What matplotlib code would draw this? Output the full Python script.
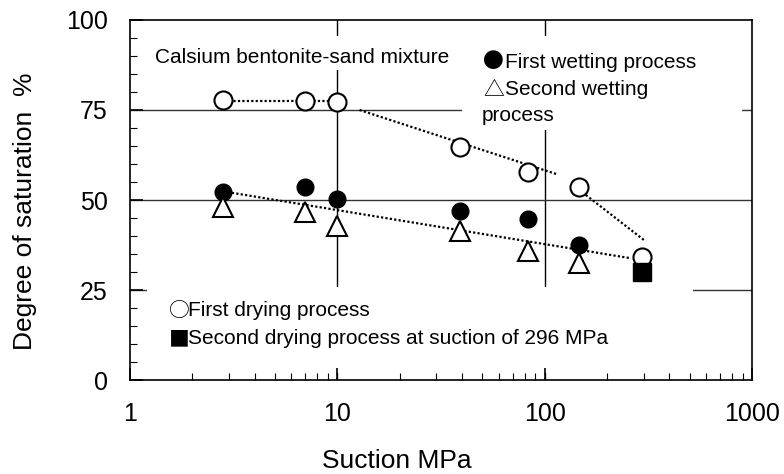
import matplotlib
matplotlib.use("Agg")
import matplotlib.pyplot as plt
from matplotlib.patches import Rectangle
from matplotlib.ticker import FixedLocator, MultipleLocator, NullFormatter

plt.rcParams['font.family'] = ['Liberation Sans', 'DejaVu Sans']
SYM = ['Noto Sans CJK JP', 'DejaVu Sans']

# data
suction = [2.8, 7, 10, 39, 83, 147, 296]
first_drying = [77.7, 77.5, 77.3, 64.6, 57.9, 53.7, 34.3]
suction_wet = [2.8, 7, 10, 39, 83, 147]
first_wetting = [52.3, 53.5, 50.2, 46.9, 44.6, 37.5]
second_wetting = [48.1, 46.7, 42.8, 41.4, 35.9, 32.5]
second_drying_x = [296]
second_drying = [30.0]

# dotted trend segments
dry_fit1_x, dry_fit1_y = [3.0, 9.2], [77.6, 77.6]
dry_fit2_x, dry_fit2_y = [12.8, 114], [75.0, 57.2]
dry_fit3_x, dry_fit3_y = [158, 304], [51.4, 38.7]
wet_fit_x, wet_fit_y = [3.1, 255], [52.0, 33.9]

fig = plt.figure(figsize=(7.84, 4.74), dpi=100)
ax = fig.add_axes([130 / 784, 94 / 474, 622 / 784, 360 / 474])

ax.set_xscale('log')
ax.set_xlim(1, 1000)
ax.set_ylim(0, 100)

# grid lines
for gx in [10, 100]:
    ax.axvline(gx, color='black', lw=1.0, zorder=1)
for gy in [25, 50, 75]:
    ax.axhline(gy, color='#333333', lw=1.0, zorder=1)

# white backgrounds behind the annotation texts
for x0, y0, w, h in [(0.032, 0.861, 0.495, 0.095),
                     (0.534, 0.694, 0.450, 0.262),
                     (0.027, 0.020, 0.878, 0.238)]:
    ax.add_patch(Rectangle((x0, y0), w, h, transform=ax.transAxes,
                           facecolor='white', edgecolor='none', zorder=1.5))

dots = (0, (1, 1))
for fx, fy in [(dry_fit1_x, dry_fit1_y), (dry_fit2_x, dry_fit2_y),
               (dry_fit3_x, dry_fit3_y), (wet_fit_x, wet_fit_y)]:
    ax.plot(fx, fy, color='black', lw=1.6, linestyle=dots, zorder=3)

ax.plot(suction, first_drying, 'o', ms=13, mfc='white', mec='black', mew=1.5, zorder=4)
ax.plot(suction_wet, first_wetting, 'o', ms=12, color='black', zorder=4)
ax.plot(suction_wet, second_wetting, '^', ms=14, mfc='white', mec='black', mew=1.5, zorder=5)
ax.plot(second_drying_x, second_drying, 's', ms=13, color='black', zorder=4)

tr = ax.transAxes
fs = 15
ax.text(0.040, 0.897, 'Calsium bentonite-sand mixture', fontsize=fs,
        va='center', ha='left', transform=tr, zorder=2)
ax.text(0.5675, 0.883, '●', family=SYM, fontsize=fs, va='center', ha='left', transform=tr, zorder=2)
ax.text(0.603, 0.883, 'First wetting process', fontsize=fs, va='center', ha='left',
        transform=tr, zorder=2)
ax.text(0.5675, 0.808, '△', family=SYM, fontsize=fs, va='center', ha='left', transform=tr, zorder=2)
ax.text(0.603, 0.808, 'Second wetting', fontsize=fs, va='center', ha='left',
        transform=tr, zorder=2)
ax.text(0.566, 0.736, 'process', fontsize=fs, va='center', ha='left',
        transform=tr, zorder=2)
ax.text(0.0627, 0.192, '○', family=SYM, fontsize=fs, va='center', ha='left', transform=tr, zorder=2)
ax.text(0.0932, 0.192, 'First drying process', fontsize=fs, va='center', ha='left',
        transform=tr, zorder=2)
ax.text(0.0627, 0.114, '■', family=SYM, fontsize=fs, va='center', ha='left', transform=tr, zorder=2)
ax.text(0.0932, 0.114, 'Second drying process at suction of 296 MPa', fontsize=fs,
        va='center', ha='left', transform=tr, zorder=2)

ax.xaxis.set_major_locator(FixedLocator([1, 10, 100, 1000]))
ax.set_xticklabels(['1', '10', '100', '1000'])
ax.xaxis.set_minor_formatter(NullFormatter())
ax.yaxis.set_major_locator(MultipleLocator(25))
ax.yaxis.set_minor_locator(MultipleLocator(5))

ax.tick_params(axis='x', which='major', direction='in', length=9, width=1.2,
               labelsize=18, pad=16)
ax.tick_params(axis='x', which='minor', direction='in', length=5, width=0.8)
ax.tick_params(axis='y', which='major', direction='in', length=9, width=1.2,
               labelsize=18, pad=16)
ax.tick_params(axis='y', which='minor', direction='in', length=5, width=0.8)

for sp in ax.spines.values():
    sp.set_linewidth(1.2)

ax.set_xlabel('Suction MPa', fontsize=19)
ax.xaxis.set_label_coords(0.429, -0.192)
ax.set_ylabel('Degree of saturation  %', fontsize=19)
ax.yaxis.set_label_coords(-0.1495, 0.469)

fig.savefig('out.png', dpi=100)
